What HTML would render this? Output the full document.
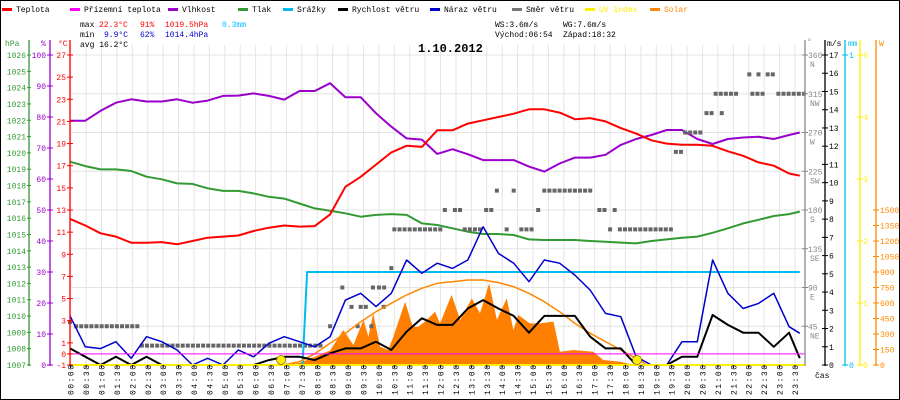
<!DOCTYPE html>
<html><head><meta charset="utf-8"><style>
html,body{margin:0;padding:0;background:#fff}
svg{display:block}
text{font-family:"Liberation Mono",monospace;font-size:8px}
</style></head><body>
<svg id="c" width="900" height="400" viewBox="0 0 900 400" xmlns="http://www.w3.org/2000/svg">
<rect x="0.5" y="0.5" width="899" height="399" fill="#fff" stroke="#000"/>
<g id="grid"></g>
<g id="series"></g>
<g id="axes"></g>
<g id="legend"></g>
<g>
<text x="80" y="27" fill="#000">max</text>
<text x="99" y="27" fill="#f00">22.3°C</text>
<text x="140" y="27" fill="#f00">91%</text>
<text x="165" y="27" fill="#f00">1019.5hPa</text>
<text x="222" y="27" fill="#0bf">0.3mm</text>
<text x="80" y="37" fill="#000">min</text>
<text x="104" y="37" fill="#00c">9.9°C</text>
<text x="140" y="37" fill="#00c">62%</text>
<text x="165" y="37" fill="#00c">1014.4hPa</text>
<text x="80" y="47" fill="#000">avg 16.2°C</text>
<text x="495" y="27" fill="#000">WS:3.6m/s</text>
<text x="563" y="27" fill="#000">WG:7.6m/s</text>
<text x="495" y="37" fill="#000">Východ:06:54</text>
<text x="563" y="37" fill="#000">Západ:18:32</text>
<text x="418" y="52" fill="#000" style="font-size:12px;font-weight:bold">1.10.2012</text>
<text x="815" y="378" fill="#000">čas</text>
</g>
</svg>
<script>
// ---- data (half-hour samples, h = 0..24) ----
const hours = [0,0.5,1,1.5,2,2.5,3,3.5,4,4.5,5,5.5,6,6.5,7,7.5,8,8.5,9,9.5,10,10.5,11,11.5,12,12.5,13,13.5,14,14.5,15,15.5,16,16.5,17,17.5,18,18.5,19,19.5,20,20.5,21,21.5,22,22.5,23,23.5,23.85];
const temperature = [12.2,11.6,10.9,10.6,10.05,10.05,10.1,9.9,10.2,10.5,10.6,10.7,11.1,11.4,11.6,11.5,11.55,12.6,15.1,16.0,17.1,18.2,18.8,18.7,20.2,20.2,20.8,21.1,21.4,21.7,22.1,22.1,21.8,21.2,21.3,21.0,20.4,19.9,19.3,19.0,18.9,18.9,18.8,18.3,17.9,17.3,17.0,16.3,16.1];
const humidity = [78.8,78.8,82.0,84.6,85.7,85.0,85.0,85.7,84.6,85.3,86.8,86.9,87.6,86.8,85.6,88.4,88.4,90.9,86.4,86.4,81.2,76.9,73.1,72.7,68.1,69.6,68.0,66.1,66.1,66.1,64.0,62.4,65.0,66.9,66.9,67.8,71.0,72.9,74.2,75.8,75.8,72.9,71.3,72.9,73.4,73.6,72.9,74.2,75.0];
const pressure = [1019.46,1019.19,1018.99,1018.99,1018.89,1018.54,1018.38,1018.13,1018.1,1017.83,1017.67,1017.67,1017.52,1017.31,1017.2,1016.9,1016.6,1016.45,1016.3,1016.09,1016.2,1016.25,1016.2,1015.68,1015.58,1015.38,1015.17,1015.03,1015.03,1014.97,1014.7,1014.66,1014.66,1014.66,1014.6,1014.55,1014.5,1014.45,1014.6,1014.7,1014.8,1014.87,1015.1,1015.38,1015.68,1015.9,1016.13,1016.25,1016.4];
const windGust = [2.7,1.0,0.9,1.28,0.37,1.55,1.28,0.82,0,0.37,0,0.82,0.45,1.19,1.55,1.28,1.0,1.55,3.56,3.93,3.2,3.93,5.76,5.03,5.58,5.3,5.76,7.58,6.12,5.58,4.57,5.76,5.58,4.93,4.11,2.83,2.65,0.46,0,0,1.28,1.28,5.76,3.93,3.1,3.38,3.93,2.1,1.74];
const windSpeed = [0.91,0.45,0,0.45,0,0.45,0,0,0,0,0,0,0,0.27,0.45,0.45,0.27,0.64,0.91,0.91,1.28,0.82,1.83,2.56,2.2,2.2,3.1,3.56,3.1,2.69,1.77,2.69,2.69,2.69,1.55,0.91,0.91,0,0,0,0.45,0.45,2.74,2.2,1.77,1.77,1.0,1.77,0.37];
const rainTimes = [0,7.6,7.75,23.85];
const rainValues = [0,0,0.3,0.3];
const solarTimes = [6.9,7.5,8.0,8.5,8.93,9.26,9.59,9.75,9.91,10.13,10.4,10.57,10.95,11.2,11.38,11.6,11.93,12.09,12.47,12.75,13.13,13.4,13.7,13.95,14.27,14.49,14.65,15.03,15.36,15.8,16.01,16.45,17.1,17.43,17.97,18.3,18.5];
const solarValues = [0,20,80,140,339,194,436,274,500,177,145,274,613,371,371,420,516,403,678,436,645,500,791,436,645,339,484,403,403,420,129,145,129,48,32,10,0];
const solarMaxTimes = [6.95,7.5,8,8.5,9,9.5,10,10.5,11,11.5,12,12.5,13,13.5,14,14.5,15,15.5,16,16.5,17,17.5,18,18.5,18.85];
const solarMaxValues = [0,32,108,210,307,419,516,597,678,742,791,806,823,823,797,758,694,613,516,403,307,226,145,65,0];
const dirStart = [0,0.2,2.35,8.5,8.9,9.2,9.4,9.5,9.85,9.9,10.1,10.25,10.5,10.6,12.25,12.58,12.9,13.6,13.95,14.27,14.5,14.75,15.3,15.5,17.3,17.65,17.8,17.97,19.8,20.1,20.8,21.3,21.1,22.2,22.3,22.5,22.8,23.15];
const dirEnd   = [0.05,2.2,8.3,8.5,9.0,9.2,9.4,9.7,9.85,9.9,10.35,10.25,10.5,12.14,12.4,12.75,13.5,13.8,14.1,14.27,14.65,15.15,15.3,17.15,17.5,17.65,17.8,19.7,20.05,20.7,21.0,21.3,21.9,22.2,22.65,22.5,23.0,24.0];
const dirVal   = [50,45,22.5,45,90,67.5,45,67.5,45,90,90,67.5,112.5,157.5,180,180,157.5,180,202.5,157.5,202.5,157.5,180,202.5,180,157.5,180,157.5,247.5,270,292.5,292.5,315,337.5,315,337.5,337.5,315];
const sunEvents = [6.9,18.53];
const tempTicks = [27,25,23,21,19,17,15,13,11,9,7,5,3,1,0,-1];
const pressTicks = [1026,1025,1024,1023,1022,1021,1020,1019,1018,1017,1016,1015,1014,1013,1012,1011,1010,1009,1008,1007];
const humTicks = [100,90,80,70,60,50,40,30,20,10,0];
const dirTicks = [360,315,270,225,180,135,90,45];
const dirNames = ["N","NW","W","SW","S","SE","E","NE"];
const msTicks = [17,16,15,14,13,12,11,10,9,8,7,6,5,4,3,2,1,0];
const uvTicks = [5,4,3,2,1,0];
const wTicks = [1500,1350,1200,1050,900,750,600,450,300,150,0];
const timeLabels = ["00:00","00:30","01:00","01:30","02:00","02:30","03:00","03:30","04:00","04:30","05:00","05:30","06:00","06:30","07:00","07:30","08:00","08:30","09:00","09:30","10:00","10:30","11:00","11:30","12:00","12:30","13:00","13:30","14:00","14:30","15:00","15:30","16:00","16:30","17:00","17:30","18:00","18:30","19:00","19:30","20:00","20:30","21:00","21:30","22:00","22:30","23:00","23:30"];

// ---- scales ----
const TOP=55, BOT=365, L=70, R=805;
const xs = h => 70 + h*30.6;
const yT = t => BOT - (t+1)*(BOT-TOP)/28;
const yH = v => BOT - v*(BOT-TOP)/100;
const yP = p => BOT - (p-1007)*(BOT-TOP)/19;
const yMS = v => BOT - v*(BOT-TOP)/17;
const yMM = v => BOT - v*(BOT-TOP)/1;
const yUV = v => BOT - v*(BOT-TOP)/5;
const yW = v => BOT - v*155/1500;
const yD = v => BOT - v*(BOT-TOP)/360;

const NS='http://www.w3.org/2000/svg';
function mk(tag, parent, attrs){const e=document.createElementNS(NS,tag);for(const k in attrs)e.setAttribute(k,attrs[k]);parent.appendChild(e);return e;}
const G=document.getElementById('grid'), S=document.getElementById('series'), A=document.getElementById('axes'), LG=document.getElementById('legend');

// grid
for(let i=0;i<=48;i++){const x=70.7+i*15.41; if(x>R)break;
 const l=mk('line',G,{x1:x,x2:x,y1:TOP-10,y2:BOT,stroke:'#e4e4e4','stroke-width':1});
 
 }
for(let k=0;k<8;k++){const y=TOP+k*38.75;
 const l=mk('line',G,{x1:L,x2:R,y1:y,y2:y,stroke:'#e4e4e4','stroke-width':1});
 
 }

function poly(xsArr, ysArr, color, w, name){
 const pts=xsArr.map((t,i)=>xs(t).toFixed(1)+','+ysArr[i].toFixed(1)).join(' ');
 const p=mk('polyline',S,{points:pts,fill:'none',stroke:color,'stroke-width':w,'stroke-linejoin':'round'});
 
 
 return p;}

// solar area
{const pts=[xs(solarTimes[0])+','+BOT].concat(solarTimes.map((t,i)=>xs(t).toFixed(1)+','+yW(solarValues[i]).toFixed(1))).concat([xs(solarTimes[solarTimes.length-1])+','+BOT]).join(' ');
 const p=mk('polygon',S,{points:pts,fill:'#ff8000'});
 
 }

poly(hours, pressure.map(yP), '#339933', 2, 'pressure-line');
poly(hours, humidity.map(yH), '#9900cc', 2, 'humidity-line');
poly(hours, temperature.map(yT), '#ff0000', 2, 'temperature-line');

// wind direction squares
for(let r=0;r<dirStart.length;r++){
 for(let t=dirStart[r]; t<=dirEnd[r]+0.001; t+=1/6){
  const s=mk('rect',S,{x:xs(t)-2,y:yD(dirVal[r])-2,width:4,height:4,fill:'#666'});
  
  
 }}

poly(rainTimes, rainValues.map(yMM), '#00bbee', 2, 'rain-line');
poly(solarMaxTimes, solarMaxValues.map(yW), '#ff8800', 1.5, 'solar-max-line');
poly(hours, windGust.map(yMS), '#0000cc', 1.5, 'wind-gust-line');
poly(hours, windSpeed.map(yMS), '#000', 2, 'wind-speed-line');
{const l=mk('line',S,{x1:L,x2:R,y1:yT(0),y2:yT(0),stroke:'#ff00ff','stroke-width':1});
 
 }
{const l=mk('line',S,{x1:L,x2:R,y1:BOT,y2:BOT,stroke:'#ffee00','stroke-width':2});
 
 }
sunEvents.forEach(t=>{const c=mk('circle',S,{cx:xs(t),cy:BOT-5,r:4.5,fill:'#ffee00',stroke:'#886600','stroke-width':0.7});
 
 });

// axes
function vaxis(x,color,name){const l=mk('line',A,{x1:x,x2:x,y1:TOP-15,y2:BOT+1,stroke:color,'stroke-width':1.3});
 
 }
function lbl(x,y,str,color,anchor,name){const t=mk('text',A,{x:x,y:y,fill:color,'text-anchor':anchor});t.textContent=str;
 
 return t;}
function tick(x1,x2,y,color){const l=mk('line',A,{x1:x1,x2:x2,y1:y,y2:y,stroke:color,'stroke-width':1});
 
 }

vaxis(29,'#339933','pressure-axis'); vaxis(50,'#9900cc','humidity-axis'); vaxis(70,'#ff0000','temperature-axis');
vaxis(805,'#888','direction-axis'); vaxis(825,'#000','wind-axis'); vaxis(845,'#00bbee','rain-axis'); vaxis(860,'#ffee00','uv-axis'); vaxis(876,'#ff8800','solar-axis');
lbl(5,46,'hPa','#339933','start','pressure-axis-title'); lbl(41,46,'%','#9900cc','start','humidity-axis-title'); lbl(58,46,'°C','#ff0000','start','temperature-axis-title');
lbl(807,44,'°','#888','start','direction-axis-title'); lbl(827,46,'m/s','#000','start','wind-axis-title'); lbl(848,46,'mm','#00bbee','start','rain-axis-title'); lbl(879,46,'W','#ff8800','start','solar-axis-title');
pressTicks.forEach(p=>{tick(27,31,yP(p),'#339933');lbl(26,yP(p)+3,String(p),'#339933','end','pressure-tick-label');});
humTicks.forEach(v=>{tick(47,53,yH(v),'#9900cc');lbl(46,yH(v)+3,String(v),'#9900cc','end','humidity-tick-label');});
tempTicks.forEach(v=>{tick(67,73,yT(v),'#ff0000');lbl(66,yT(v)+3,String(v),'#ff0000','end','temperature-tick-label');});
dirTicks.forEach((v,i)=>{tick(802,808,yD(v),'#888');lbl(808,yD(v)+3,String(v),'#888','start','direction-tick-label');lbl(810,yD(v)+12,dirNames[i],'#888','start','direction-name-label');});
msTicks.forEach(v=>{tick(822,828,yMS(v),'#000');lbl(829,yMS(v)+3,String(v),'#000','start','wind-tick-label');});
[1,0].forEach(v=>{tick(842,848,yMM(v),'#00bbee');lbl(849,yMM(v)+3,String(v),'#00bbee','start','rain-tick-label');});
uvTicks.forEach(v=>{tick(857,863,yUV(v),'#ffee00');lbl(863,yUV(v)+3,String(v),'#ffee00','start','uv-tick-label');});
wTicks.forEach(v=>{tick(873,879,yW(v),'#ff8800');lbl(880,yW(v)+3,String(v),'#ff8800','start','solar-tick-label');});
timeLabels.forEach((s,i)=>{const x=70.7+i*15.41;
 const tk=mk('line',A,{x1:x,x2:x,y1:BOT,y2:BOT+3,stroke:'#000','stroke-width':1});
 
 
 const t=mk('text',A,{x:0,y:0,fill:'#000',transform:'translate('+(x+3)+',395) rotate(-90)','letter-spacing':'1.5'});t.textContent=s;
 
 });

// legend
const legNames=['Teplota','Přízemní teplota','Vlhkost','Tlak','Srážky','Rychlost větru','Náraz větru','Směr větru','UV index','Solar'];
const legColors=['#ff0000','#ff00ff','#9900cc','#339933','#00bbee','#000','#0000cc','#777','#ffee00','#ff8800'];
const legX=[2,70,168,238,283,338,430,512,585,650];
legNames.forEach((n,i)=>{
 const g=mk('g',LG,{});
 
 
 mk('rect',g,{x:legX[i],y:8,width:10,height:3,fill:legColors[i]});
 const t=mk('text',g,{x:legX[i]+14,y:12,fill:(i>=8?legColors[i]:'#000')});t.textContent=n;});
</script>
</body></html>
